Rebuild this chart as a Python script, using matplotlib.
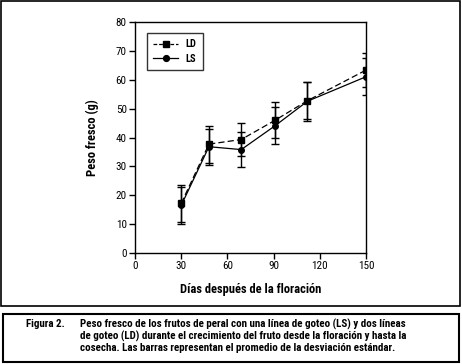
import matplotlib
matplotlib.use("Agg")
import matplotlib.pyplot as plt
from matplotlib import font_manager
from matplotlib.lines import Line2D
from matplotlib.patches import Rectangle

# pick a narrow face if one is installed, otherwise Liberation Sans
installed = {f.name for f in font_manager.fontManager.ttflist}
family = "DejaVu Sans"
for name in ["Liberation Sans Narrow", "DejaVu Sans Condensed", "Roboto Condensed",
             "Liberation Sans", "Arial"]:
    if name in installed:
        family = name
        break
plt.rcParams["font.family"] = [family, "DejaVu Sans"]

# Data
days = [30, 48, 69, 91, 112, 150]
ld_mean = [17.1, 37.7, 39.3, 46.0, 52.8, 63.4]
ld_sd = [6.3, 6.4, 5.6, 6.2, 6.5, 6.0]
ls_mean = [16.4, 36.8, 35.8, 44.1, 52.6, 61.1]
ls_sd = [6.3, 6.2, 6.1, 6.4, 6.8, 6.4]

x_ticks = [0, 30, 60, 90, 120, 150]
y_ticks = [0, 10, 20, 30, 40, 50, 60, 70, 80]

W, H = 462, 364
fig = plt.figure(figsize=(W / 100, H / 100), dpi=100)
ax = fig.add_axes([135 / W, 1 - 252.7 / H, 231 / W, 230.4 / H])

ax.errorbar(days, ld_mean, yerr=ld_sd, color="black", ls=(0, (5, 2.5)), lw=0.9,
            marker="s", ms=4.2, capsize=2.6, elinewidth=1, capthick=1)
ax.errorbar(days, ls_mean, yerr=ls_sd, color="black", ls="-", lw=0.9,
            marker="o", ms=4, capsize=2.6, elinewidth=1, capthick=1)

ax.set_xlim(0, 150)
ax.set_ylim(0, 80)
ax.set_xticks(x_ticks)
ax.set_yticks(y_ticks)
ax.tick_params(direction="out", length=4, width=1, labelsize=8, pad=2)
for s in ax.spines.values():
    s.set_linewidth(1)

xl = ax.set_xlabel("Días después de la floración", fontsize=8, fontweight="bold")
yl = ax.set_ylabel("Peso fresco (g)", fontsize=8, fontweight="bold")
ax.xaxis.set_label_coords(0.5, -(290 - 252.7) / 230.4)
ax.yaxis.set_label_coords(-(135 - 92) / 231, 0.5)
xl.set_va("center")
yl.set_va("center")

handles = [
    Line2D([], [], color="black", ls=(0, (3, 1.5)), lw=0.9, marker="s", ms=4.5),
    Line2D([], [], color="black", ls="-", lw=0.9, marker="o", ms=4.2),
]
leg = ax.legend(handles, ["LD", "LS"], loc="upper left",
                bbox_to_anchor=((147 - 135) / 231, 1 - (33 - 22.3) / 230.4),
                frameon=True, fancybox=False, edgecolor="black",
                prop={"size": 7.5, "weight": "bold"}, handlelength=2.4,
                borderpad=0.6, labelspacing=0.45, handletextpad=0.7,
                borderaxespad=0)
leg.get_frame().set_linewidth(1)

# outer frames
fig.patches.append(Rectangle((1 / W, 1 - 306 / H), 459 / W, 305 / H,
                             transform=fig.transFigure, fill=False, lw=1.2,
                             edgecolor="black"))
fig.patches.append(Rectangle((3 / W, 1 - 362 / H), 456 / W, 48 / H,
                             transform=fig.transFigure, fill=False, lw=1.5,
                             edgecolor="black"))

cap_lines = [
    "Peso fresco de los frutos de peral con una línea de goteo (LS) y dos líneas",
    "de goteo (LD) durante el crecimiento del fruto desde la floración y hasta la",
    "cosecha. Las barras representan el promedio de la desviación estándar.",
]
cap_y = [324, 336, 348]
fig_lab = fig.text(26 / W, 1 - cap_y[0] / H, "Figura 2.", fontsize=8,
                   fontweight="bold", va="center")
cap_texts = []
for line, yy in zip(cap_lines, cap_y):
    cap_texts.append(fig.text(80 / W, 1 - yy / H, line, fontsize=8,
                              fontweight="bold", va="center"))

# scale text sizes so their lengths match the reference
renderer = fig.canvas.get_renderer()


def fit_size(t, target_px, vertical=False, cap=None):
    ext = t.get_window_extent(renderer)
    length = ext.height if vertical else ext.width
    size = t.get_fontsize() * target_px / length
    if cap is not None:
        size = min(size, cap)
    t.set_fontsize(size)


fit_size(cap_texts[0], 361, cap=7.9)
for t in cap_texts[1:] + [fig_lab]:
    t.set_fontsize(cap_texts[0].get_fontsize())
fit_size(xl, 143, cap=9)
fit_size(yl, 77, vertical=True, cap=9)

fig.savefig("out.png", dpi=100)
